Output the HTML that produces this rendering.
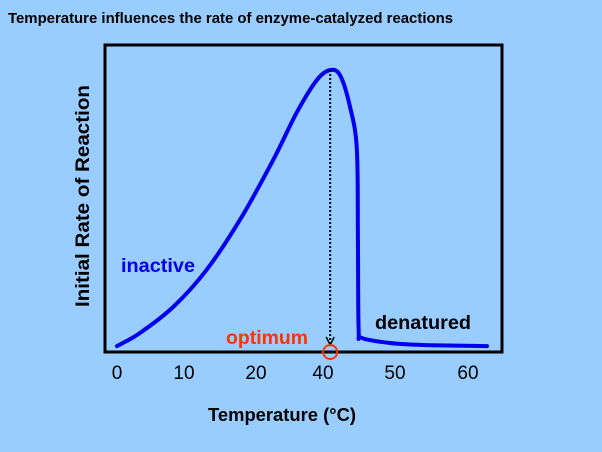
<!DOCTYPE html>
<html><head><meta charset="utf-8"><style>
body{margin:0;background:#99ccff;width:602px;height:452px;overflow:hidden;font-family:"Liberation Sans",sans-serif}
</style></head><body>
<svg width="602" height="452" style="position:absolute;left:0;top:0">
<rect width="602" height="452" fill="#99ccff"/>
<text x="8" y="23" font-size="15" font-weight="bold" fill="#000" textLength="445" lengthAdjust="spacingAndGlyphs">Temperature influences the rate of enzyme-catalyzed reactions</text>
<rect x="105" y="45" width="397" height="307" fill="none" stroke="#000" stroke-width="3"/>
<g id="ticks"></g>
<path id="curve" fill="none" stroke="#0000ee" stroke-width="4" stroke-linejoin="round" stroke-linecap="round"/>
<line id="optline" stroke="#000" stroke-width="2" stroke-dasharray="2,2"/>
<path id="arrow" fill="none" stroke="#000" stroke-width="1.5"/>
<circle id="optcircle" r="7" fill="none" stroke="#ff3300" stroke-width="2"/>
<text x="121" y="272" font-size="19" font-weight="bold" fill="#0000ee" textLength="74" lengthAdjust="spacingAndGlyphs">inactive</text>
<text x="375" y="329" font-size="19.5" font-weight="bold" fill="#000" textLength="96" lengthAdjust="spacingAndGlyphs">denatured</text>
<text x="226" y="344" font-size="19" font-weight="bold" fill="#ff3300" textLength="82" lengthAdjust="spacingAndGlyphs">optimum</text>
<text x="282" y="421" font-size="18.5" font-weight="bold" text-anchor="middle" textLength="148" lengthAdjust="spacingAndGlyphs">Temperature (°C)</text>
<text transform="translate(89,196) rotate(-90)" font-size="19.5" font-weight="bold" text-anchor="middle" textLength="222" lengthAdjust="spacingAndGlyphs">Initial Rate of Reaction</text>
</svg>
<script>
const tickLabels=[0,10,20,40,50,60];
const temps=[0,3.4,8.4,13.1,17.8,25.1,32.2,38.2,41.0,42.4,43.75,44.7,44.85,44.95,45.4,49.3,53.8,62.6];
const rates=[2.1,6.7,16,29,47,68,85,96.5,100,98,87,72,40,8,5,3.2,2.5,2.1];
const optimumTemp=41;
const knotT=[0,10,20,40,50,60], knotP=[117,184,256,323,395,468];
function xs(t){let i=0;while(i<knotT.length-2&&t>knotT[i+1])i++;return knotP[i]+(t-knotT[i])*(knotP[i+1]-knotP[i])/(knotT[i+1]-knotT[i]);}
function ys(v){return 352-v*2.82;}
const ns="http://www.w3.org/2000/svg";
const g=document.getElementById('ticks');
tickLabels.forEach(t=>{const e=document.createElementNS(ns,'text');


e.setAttribute('x',xs(t));e.setAttribute('y',379);e.setAttribute('font-size','19');e.setAttribute('text-anchor','middle');e.textContent=t;g.appendChild(e);});
const pts=temps.map((t,i)=>[xs(t),ys(rates[i])]);
let d='M'+pts[0][0]+','+pts[0][1];
for(let i=0;i<pts.length-1;i++){const p0=pts[Math.max(0,i-1)],p1=pts[i],p2=pts[i+1],p3=pts[Math.min(pts.length-1,i+2)];
const c1=[p1[0]+(p2[0]-p0[0])/6,p1[1]+(p2[1]-p0[1])/6],c2=[p2[0]-(p3[0]-p1[0])/6,p2[1]-(p3[1]-p1[1])/6];
d+=' C'+c1.join(',')+' '+c2.join(',')+' '+p2.join(',');}
document.getElementById('curve').setAttribute('d',d);
const ox=xs(optimumTemp);
const l=document.getElementById('optline');l.setAttribute('x1',ox);l.setAttribute('x2',ox);l.setAttribute('y1',ys(100));l.setAttribute('y2',344);
document.getElementById('arrow').setAttribute('d',`M${ox-4},337 L${ox},345 L${ox+4},337`);
const c=document.getElementById('optcircle');c.setAttribute('cx',ox);c.setAttribute('cy',352);
</script>
</body></html>
